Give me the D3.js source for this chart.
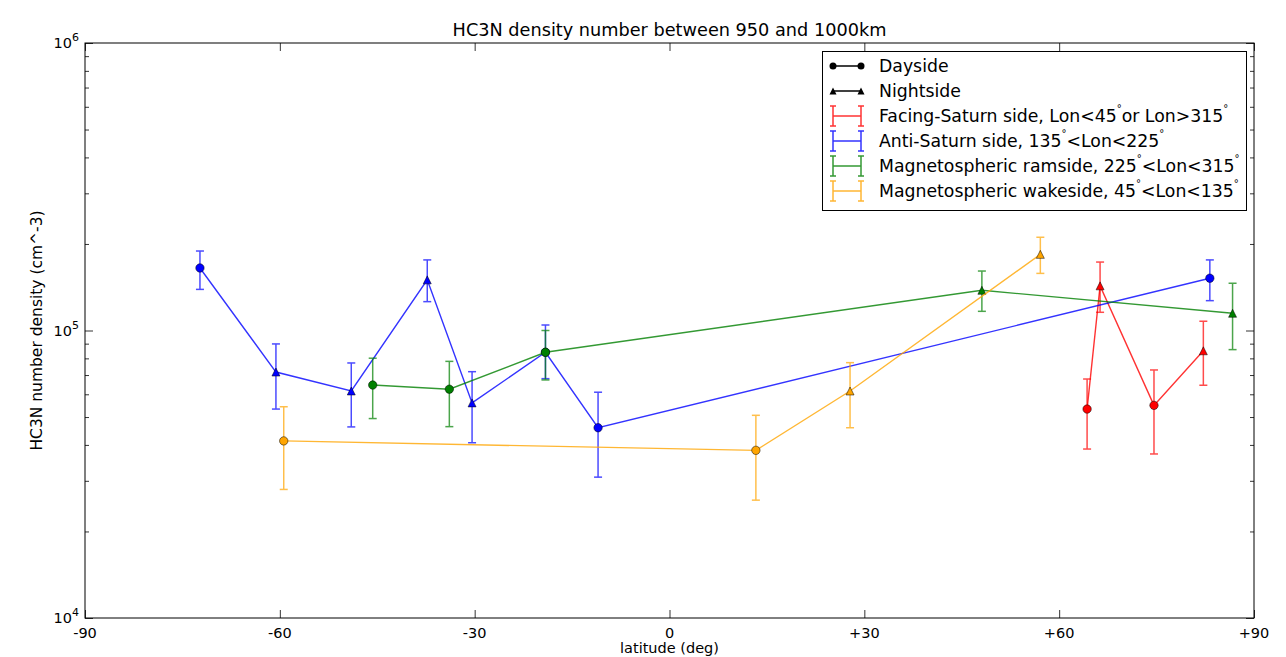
<!DOCTYPE html>
<html><head><meta charset="utf-8">
<script src="https://cdn.jsdelivr.net/npm/d3@7"></script>
<style>body{margin:0;background:#fff;} svg{display:block;font-family:"DejaVu Sans",sans-serif;}</style>
</head><body>
<svg id="c" width="1286" height="657"></svg>
<script>
// ---- data ----
const xTickValues = [-90, -60, -30, 0, 30, 60, 90];
const xTickLabels = ["-90", "-60", "-30", "0", "+30", "+60", "+90"];
const yTickExponents = [4, 5, 6];

const facingLat  = [64.3, 66.3, 74.6, 82.2];
const facingVal  = [5.33e4, 1.43e5, 5.49e4, 8.5e4];
const facingLo   = [3.87e4, 1.157e5, 3.72e4, 6.45e4];
const facingHi   = [6.78e4, 1.73e5, 7.29e4, 1.077e5];
const facingSide = ["day", "night", "day", "night"];

const antiLat  = [-72.3, -60.6, -49.0, -37.3, -30.4, -19.1, -11.0, 83.2];
const antiVal  = [1.65e5, 7.17e4, 6.16e4, 1.50e5, 5.6e4, 8.4e4, 4.59e4, 1.52e5];
const antiLo   = [1.39e5, 5.33e4, 4.62e4, 1.26e5, 4.07e4, 6.8e4, 3.09e4, 1.27e5];
const antiHi   = [1.89e5, 8.98e4, 7.71e4, 1.76e5, 7.19e4, 1.045e5, 6.1e4, 1.76e5];
const antiSide = ["day", "night", "night", "night", "night", "day", "day", "day"];

const ramLat  = [-45.7, -33.9, -19.1, 48.1, 86.7];
const ramVal  = [6.46e4, 6.25e4, 8.4e4, 1.38e5, 1.148e5];
const ramLo   = [4.94e4, 4.63e4, 6.73e4, 1.166e5, 8.58e4];
const ramHi   = [8.01e4, 7.81e4, 1.0e5, 1.61e5, 1.46e5];
const ramSide = ["day", "day", "day", "night", "night"];

const wakeLat  = [-59.4, 13.3, 27.8, 57.1];
const wakeVal  = [4.13e4, 3.83e4, 6.16e4, 1.84e5];
const wakeLo   = [2.8e4, 2.57e4, 4.59e4, 1.58e5];
const wakeHi   = [5.43e4, 5.07e4, 7.73e4, 2.11e5];
const wakeSide = ["day", "day", "night", "night"];

const seriesColors = ["#ff0000", "#0000ff", "#008000", "#ffa500"];
const legendMarkerLabels = ["Dayside", "Nightside"];
const legendSeriesLabels = [
  ["Facing-Saturn side, Lon<45", "or Lon>315"],
  ["Anti-Saturn side, 135", "<Lon<225"],
  ["Magnetospheric ramside, 225", "<Lon<315"],
  ["Magnetospheric wakeside, 45", "<Lon<135"]
];

const series = [
  {lat: facingLat, val: facingVal, lo: facingLo, hi: facingHi, side: facingSide},
  {lat: antiLat, val: antiVal, lo: antiLo, hi: antiHi, side: antiSide},
  {lat: ramLat, val: ramVal, lo: ramLo, hi: ramHi, side: ramSide},
  {lat: wakeLat, val: wakeVal, lo: wakeLo, hi: wakeHi, side: wakeSide}
].map((s, i) => ({color: seriesColors[i], pts: s.lat.map((d, j) => ({lat: d, val: s.val[j], lo: s.lo[j], hi: s.hi[j], side: s.side[j]}))}));

// ---- layout ----
const svg = d3.select("#c");
const L = 85, R = 1254, T = 43, B = 618;
const x = d3.scaleLinear().domain([-90, 90]).range([L, R]);
const y = d3.scaleLog().domain([1e4, 1e6]).range([B, T]);

svg.append("text").attr("x", (L + R) / 2).attr("y", 36).attr("text-anchor", "middle")
  .attr("font-size", 17.7).attr("fill", "#000").text("HC3N density number between 950 and 1000km");

const minorVals = [];
for (let e = 4; e < 6; e++) for (let m = 2; m <= 9; m++) minorVals.push(m * Math.pow(10, e));

function tickLines(g) { g.select(".domain").remove(); g.selectAll("text").remove(); g.selectAll("line").attr("stroke", "#000").attr("stroke-width", 0.8); }

svg.append("g").attr("transform", `translate(0,${B})`).call(d3.axisBottom(x).tickValues(xTickValues).tickSizeInner(-8).tickSizeOuter(0)).call(tickLines);
svg.append("g").attr("transform", `translate(0,${T})`).call(d3.axisTop(x).tickValues(xTickValues).tickSizeInner(-8).tickSizeOuter(0)).call(tickLines);
const yMajor = yTickExponents.map(e => Math.pow(10, e));
svg.append("g").attr("transform", `translate(${L},0)`).call(d3.axisLeft(y).tickValues(yMajor).tickSizeInner(-8).tickSizeOuter(0)).call(tickLines);
svg.append("g").attr("transform", `translate(${R},0)`).call(d3.axisRight(y).tickValues(yMajor).tickSizeInner(-8).tickSizeOuter(0)).call(tickLines);
svg.append("g").attr("transform", `translate(${L},0)`).call(d3.axisLeft(y).tickValues(minorVals).tickSizeInner(-4).tickSizeOuter(0)).call(tickLines);
svg.append("g").attr("transform", `translate(${R},0)`).call(d3.axisRight(y).tickValues(minorVals).tickSizeInner(-4).tickSizeOuter(0)).call(tickLines);

svg.append("g").selectAll("text").data(xTickValues).join("text")
  .attr("x", d => x(d)).attr("y", B + 20).attr("text-anchor", "middle").attr("font-size", 14.5).attr("fill", "#000")
  .text((d, i) => xTickLabels[i]);
const yl = svg.append("g").selectAll("text").data(yTickExponents).join("text")
  .attr("x", L - 6).attr("y", d => y(Math.pow(10, d)) + 5).attr("text-anchor", "end").attr("font-size", 14.5).attr("fill", "#000");
yl.append("tspan").text("10");
yl.append("tspan").attr("font-size", 11).attr("dy", -7).text(d => d);

svg.append("text").attr("x", (L + R) / 2).attr("y", 653).attr("text-anchor", "middle").attr("font-size", 14.5).attr("fill", "#000").text("latitude (deg)");
svg.append("text").attr("transform", `translate(42,${(T + B) / 2}) rotate(-90)`).attr("text-anchor", "middle").attr("font-size", 15.5).attr("fill", "#000").text("HC3N number density (cm^-3)");

const plot = svg.append("g");
const line = d3.line().x(d => x(d.lat)).y(d => y(d.val));
const triPath = s => `M0,${-s/2}L${s/2},${s/2}L${-s/2},${s/2}Z`;

series.forEach(s => {
  const g = plot.append("g");
  const eb = g.append("g").attr("stroke", s.color).attr("stroke-width", 1.5).attr("opacity", 0.7);
  eb.selectAll("line.v").data(s.pts).join("line").attr("class", "v")
    .attr("x1", d => x(d.lat)).attr("x2", d => x(d.lat)).attr("y1", d => y(d.lo)).attr("y2", d => y(d.hi));
  eb.selectAll("line.ct").data(s.pts).join("line").attr("class", "ct")
    .attr("x1", d => x(d.lat) - 4).attr("x2", d => x(d.lat) + 4).attr("y1", d => y(d.hi)).attr("y2", d => y(d.hi));
  eb.selectAll("line.cb").data(s.pts).join("line").attr("class", "cb")
    .attr("x1", d => x(d.lat) - 4).attr("x2", d => x(d.lat) + 4).attr("y1", d => y(d.lo)).attr("y2", d => y(d.lo));
  g.append("path").datum(s.pts).attr("d", line).attr("fill", "none").attr("stroke", s.color).attr("stroke-width", 1.4).attr("opacity", 0.8);
  g.selectAll("circle").data(s.pts.filter(d => d.side === "day")).join("circle")
    .attr("cx", d => x(d.lat)).attr("cy", d => y(d.val)).attr("r", 4.2)
    .attr("fill", s.color).attr("stroke", "#000").attr("stroke-width", 0.5);
  g.selectAll("path.tri").data(s.pts.filter(d => d.side === "night")).join("path").attr("class", "tri")
    .attr("transform", d => `translate(${x(d.lat)},${y(d.val)})`).attr("d", triPath(8))
    .attr("fill", s.color).attr("stroke", "#000").attr("stroke-width", 0.5);
});

svg.append("rect").attr("x", L).attr("y", T).attr("width", R - L).attr("height", B - T)
  .attr("fill", "none").attr("stroke", "#000").attr("stroke-width", 1);

// legend
const lg = svg.append("g");
lg.append("rect").attr("x", 822.5).attr("y", 51.5).attr("width", 424).attr("height", 159).attr("fill", "#fff").attr("stroke", "#000").attr("stroke-width", 1);
const lx0 = 833, lx1 = 861, tx = 879, ly0 = 66, dyL = 25, fs = 17.3;
lg.append("line").attr("x1", lx0).attr("x2", lx1).attr("y1", ly0).attr("y2", ly0).attr("stroke", "#000").attr("stroke-width", 1.5);
[lx0, lx1].forEach(px => lg.append("circle").attr("cx", px).attr("cy", ly0).attr("r", 3.5).attr("fill", "#000"));
lg.append("text").attr("x", tx).attr("y", ly0 + 6).attr("font-size", fs).text(legendMarkerLabels[0]);
lg.append("line").attr("x1", lx0).attr("x2", lx1).attr("y1", ly0 + dyL).attr("y2", ly0 + dyL).attr("stroke", "#000").attr("stroke-width", 1.5);
[lx0, lx1].forEach(px => lg.append("path").attr("transform", `translate(${px},${ly0 + dyL})`).attr("d", triPath(7)).attr("fill", "#000"));
lg.append("text").attr("x", tx).attr("y", ly0 + dyL + 6).attr("font-size", fs).text(legendMarkerLabels[1]);

legendSeriesLabels.forEach((parts, i) => {
  const cy = ly0 + dyL * (i + 2);
  const c = seriesColors[i];
  const eg = lg.append("g").attr("stroke", c).attr("stroke-width", 1.5).attr("opacity", 0.8);
  eg.append("line").attr("x1", lx0).attr("x2", lx1).attr("y1", cy).attr("y2", cy);
  [lx0, lx1].forEach(px => {
    eg.append("line").attr("x1", px).attr("x2", px).attr("y1", cy - 10).attr("y2", cy + 10);
    eg.append("line").attr("x1", px - 3).attr("x2", px + 3).attr("y1", cy - 10).attr("y2", cy - 10);
    eg.append("line").attr("x1", px - 3).attr("x2", px + 3).attr("y1", cy + 10).attr("y2", cy + 10);
  });
  const t = lg.append("text").attr("x", tx).attr("y", cy + 6).attr("font-size", fs).attr("fill", "#000");
  t.append("tspan").text(parts[0]);
  t.append("tspan").attr("font-size", 10).attr("dy", -10).text("°");
  t.append("tspan").attr("dy", 10).text(parts[1]);
  t.append("tspan").attr("font-size", 10).attr("dy", -10).text("°");
});
</script>
</body></html>
